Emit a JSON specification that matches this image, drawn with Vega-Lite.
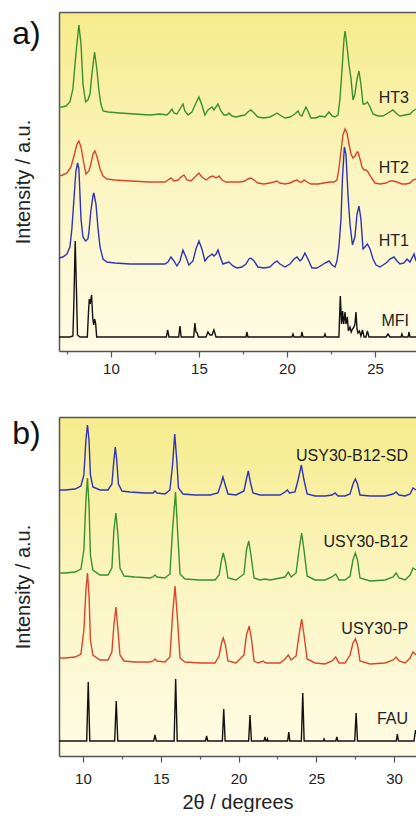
{
"$schema":"https://vega.github.io/schema/vega-lite/v6.json",
"padding":{"left":12,"top":12,"right":0,"bottom":0},
"spacing":41,
"resolve":{"scale":{"color":"independent"}},
"config":{"font":"Liberation Sans","view":{"stroke":null,"fill":{"gradient":"linear","x1":0,"y1":0,"x2":0,"y2":1,"stops":[{"offset":0,"color":"#f6ec8c"},{"offset":0.5,"color":"#fbf5c2"},{"offset":1,"color":"#fffce6"}]}},
"axis":{"grid":false,"domainColor":"#555555","domainWidth":1.5,"tickColor":"#555555","tickWidth":1.2,"labelColor":"#222222","labelFontSize":15,"titleColor":"#222222","titleFontWeight":"normal","titleFontSize":20,"labelFlush":false,"labelOverlap":false}},
"datasets":{
"a_lines":[
{"s":"HT3","x":7.05,"y":244},{"s":"HT3","x":7.22,"y":244},{"s":"HT3","x":7.44,"y":245},{"s":"HT3","x":7.67,"y":249},{"s":"HT3","x":7.84,"y":262},{"s":"HT3","x":8.01,"y":297},{"s":"HT3","x":8.18,"y":326},{"s":"HT3","x":8.30,"y":307},{"s":"HT3","x":8.41,"y":267},{"s":"HT3","x":8.56,"y":249},{"s":"HT3","x":8.69,"y":251},{"s":"HT3","x":8.81,"y":257},{"s":"HT3","x":8.92,"y":277},{"s":"HT3","x":9.07,"y":299},{"s":"HT3","x":9.20,"y":282},{"s":"HT3","x":9.32,"y":260},{"s":"HT3","x":9.43,"y":247},{"s":"HT3","x":9.55,"y":240},{"s":"HT3","x":9.83,"y":239},{"s":"HT3","x":10.51,"y":238},{"s":"HT3","x":11.36,"y":237},{"s":"HT3","x":12.22,"y":236},{"s":"HT3","x":12.78,"y":237},{"s":"HT3","x":13.18,"y":236},{"s":"HT3","x":13.35,"y":239},{"s":"HT3","x":13.47,"y":242},{"s":"HT3","x":13.58,"y":238},{"s":"HT3","x":13.75,"y":237},{"s":"HT3","x":13.92,"y":242},{"s":"HT3","x":14.09,"y":247},{"s":"HT3","x":14.20,"y":240},{"s":"HT3","x":14.38,"y":236},{"s":"HT3","x":14.60,"y":239},{"s":"HT3","x":14.83,"y":248},{"s":"HT3","x":15.00,"y":254},{"s":"HT3","x":15.17,"y":246},{"s":"HT3","x":15.34,"y":236},{"s":"HT3","x":15.51,"y":241},{"s":"HT3","x":15.74,"y":244},{"s":"HT3","x":15.85,"y":241},{"s":"HT3","x":16.08,"y":247},{"s":"HT3","x":16.25,"y":240},{"s":"HT3","x":16.42,"y":236},{"s":"HT3","x":16.59,"y":236},{"s":"HT3","x":16.70,"y":238},{"s":"HT3","x":16.88,"y":235},{"s":"HT3","x":17.10,"y":234},{"s":"HT3","x":17.33,"y":235},{"s":"HT3","x":17.61,"y":236},{"s":"HT3","x":17.78,"y":239},{"s":"HT3","x":17.95,"y":241},{"s":"HT3","x":18.13,"y":238},{"s":"HT3","x":18.35,"y":234},{"s":"HT3","x":18.69,"y":233},{"s":"HT3","x":19.03,"y":234},{"s":"HT3","x":19.26,"y":236},{"s":"HT3","x":19.43,"y":238},{"s":"HT3","x":19.60,"y":236},{"s":"HT3","x":19.89,"y":233},{"s":"HT3","x":20.17,"y":234},{"s":"HT3","x":20.45,"y":237},{"s":"HT3","x":20.63,"y":240},{"s":"HT3","x":20.74,"y":236},{"s":"HT3","x":20.85,"y":235},{"s":"HT3","x":20.97,"y":240},{"s":"HT3","x":21.08,"y":244},{"s":"HT3","x":21.19,"y":240},{"s":"HT3","x":21.36,"y":233},{"s":"HT3","x":21.65,"y":233},{"s":"HT3","x":21.88,"y":235},{"s":"HT3","x":22.16,"y":234},{"s":"HT3","x":22.39,"y":239},{"s":"HT3","x":22.56,"y":235},{"s":"HT3","x":22.73,"y":234},{"s":"HT3","x":22.90,"y":236},{"s":"HT3","x":23.01,"y":252},{"s":"HT3","x":23.13,"y":282},{"s":"HT3","x":23.24,"y":312},{"s":"HT3","x":23.30,"y":320},{"s":"HT3","x":23.35,"y":314},{"s":"HT3","x":23.47,"y":295},{"s":"HT3","x":23.52,"y":287},{"s":"HT3","x":23.64,"y":272},{"s":"HT3","x":23.75,"y":251},{"s":"HT3","x":23.86,"y":257},{"s":"HT3","x":23.98,"y":272},{"s":"HT3","x":24.09,"y":280},{"s":"HT3","x":24.20,"y":267},{"s":"HT3","x":24.32,"y":247},{"s":"HT3","x":24.43,"y":247},{"s":"HT3","x":24.57,"y":249},{"s":"HT3","x":24.72,"y":244},{"s":"HT3","x":24.89,"y":237},{"s":"HT3","x":25.17,"y":235},{"s":"HT3","x":25.45,"y":235},{"s":"HT3","x":25.74,"y":238},{"s":"HT3","x":26.02,"y":241},{"s":"HT3","x":26.25,"y":237},{"s":"HT3","x":26.42,"y":235},{"s":"HT3","x":26.70,"y":236},{"s":"HT3","x":26.99,"y":237},{"s":"HT3","x":27.16,"y":240},{"s":"HT3","x":27.33,"y":242},
{"s":"HT2","x":7.05,"y":175},{"s":"HT2","x":7.27,"y":176},{"s":"HT2","x":7.50,"y":178},{"s":"HT2","x":7.73,"y":184},{"s":"HT2","x":7.90,"y":195},{"s":"HT2","x":8.07,"y":207},{"s":"HT2","x":8.18,"y":210},{"s":"HT2","x":8.30,"y":204},{"s":"HT2","x":8.47,"y":187},{"s":"HT2","x":8.58,"y":177},{"s":"HT2","x":8.75,"y":180},{"s":"HT2","x":8.86,"y":187},{"s":"HT2","x":8.98,"y":197},{"s":"HT2","x":9.09,"y":200},{"s":"HT2","x":9.20,"y":195},{"s":"HT2","x":9.38,"y":182},{"s":"HT2","x":9.55,"y":175},{"s":"HT2","x":9.77,"y":172},{"s":"HT2","x":10.23,"y":171},{"s":"HT2","x":11.08,"y":170},{"s":"HT2","x":12.22,"y":169},{"s":"HT2","x":13.07,"y":169},{"s":"HT2","x":13.24,"y":171},{"s":"HT2","x":13.41,"y":173},{"s":"HT2","x":13.58,"y":170},{"s":"HT2","x":13.81,"y":171},{"s":"HT2","x":13.98,"y":174},{"s":"HT2","x":14.15,"y":176},{"s":"HT2","x":14.32,"y":171},{"s":"HT2","x":14.55,"y":170},{"s":"HT2","x":14.77,"y":174},{"s":"HT2","x":15.00,"y":178},{"s":"HT2","x":15.17,"y":174},{"s":"HT2","x":15.40,"y":171},{"s":"HT2","x":15.63,"y":174},{"s":"HT2","x":15.80,"y":175},{"s":"HT2","x":15.97,"y":173},{"s":"HT2","x":16.14,"y":175},{"s":"HT2","x":16.31,"y":171},{"s":"HT2","x":16.53,"y":169},{"s":"HT2","x":16.88,"y":169},{"s":"HT2","x":17.33,"y":169},{"s":"HT2","x":17.61,"y":170},{"s":"HT2","x":17.78,"y":172},{"s":"HT2","x":17.95,"y":173},{"s":"HT2","x":18.13,"y":171},{"s":"HT2","x":18.35,"y":168},{"s":"HT2","x":18.69,"y":167},{"s":"HT2","x":19.03,"y":168},{"s":"HT2","x":19.26,"y":169},{"s":"HT2","x":19.43,"y":170},{"s":"HT2","x":19.60,"y":168},{"s":"HT2","x":19.89,"y":167},{"s":"HT2","x":20.17,"y":168},{"s":"HT2","x":20.40,"y":170},{"s":"HT2","x":20.57,"y":171},{"s":"HT2","x":20.74,"y":169},{"s":"HT2","x":20.85,"y":169},{"s":"HT2","x":20.97,"y":171},{"s":"HT2","x":21.14,"y":169},{"s":"HT2","x":21.36,"y":167},{"s":"HT2","x":21.76,"y":167},{"s":"HT2","x":22.10,"y":168},{"s":"HT2","x":22.44,"y":169},{"s":"HT2","x":22.67,"y":169},{"s":"HT2","x":22.84,"y":171},{"s":"HT2","x":22.95,"y":182},{"s":"HT2","x":23.07,"y":200},{"s":"HT2","x":23.18,"y":216},{"s":"HT2","x":23.30,"y":222},{"s":"HT2","x":23.41,"y":218},{"s":"HT2","x":23.52,"y":207},{"s":"HT2","x":23.64,"y":197},{"s":"HT2","x":23.75,"y":193},{"s":"HT2","x":23.86,"y":195},{"s":"HT2","x":23.98,"y":199},{"s":"HT2","x":24.03,"y":199},{"s":"HT2","x":24.15,"y":192},{"s":"HT2","x":24.26,"y":184},{"s":"HT2","x":24.38,"y":181},{"s":"HT2","x":24.49,"y":181},{"s":"HT2","x":24.60,"y":179},{"s":"HT2","x":24.77,"y":174},{"s":"HT2","x":25.00,"y":168},{"s":"HT2","x":25.28,"y":167},{"s":"HT2","x":25.63,"y":168},{"s":"HT2","x":25.85,"y":170},{"s":"HT2","x":26.02,"y":170},{"s":"HT2","x":26.25,"y":169},{"s":"HT2","x":26.53,"y":167},{"s":"HT2","x":26.76,"y":167},{"s":"HT2","x":26.99,"y":168},{"s":"HT2","x":27.16,"y":171},{"s":"HT2","x":27.33,"y":172},
{"s":"HT1","x":7.05,"y":93},{"s":"HT1","x":7.27,"y":94},{"s":"HT1","x":7.50,"y":97},{"s":"HT1","x":7.67,"y":104},{"s":"HT1","x":7.78,"y":122},{"s":"HT1","x":7.90,"y":152},{"s":"HT1","x":8.01,"y":180},{"s":"HT1","x":8.11,"y":188},{"s":"HT1","x":8.18,"y":182},{"s":"HT1","x":8.24,"y":157},{"s":"HT1","x":8.30,"y":132},{"s":"HT1","x":8.41,"y":114},{"s":"HT1","x":8.56,"y":110},{"s":"HT1","x":8.69,"y":112},{"s":"HT1","x":8.75,"y":119},{"s":"HT1","x":8.86,"y":140},{"s":"HT1","x":8.98,"y":155},{"s":"HT1","x":9.03,"y":158},{"s":"HT1","x":9.15,"y":147},{"s":"HT1","x":9.26,"y":124},{"s":"HT1","x":9.38,"y":104},{"s":"HT1","x":9.55,"y":92},{"s":"HT1","x":9.77,"y":89},{"s":"HT1","x":10.23,"y":88},{"s":"HT1","x":11.08,"y":87},{"s":"HT1","x":12.22,"y":87},{"s":"HT1","x":13.07,"y":87},{"s":"HT1","x":13.24,"y":89},{"s":"HT1","x":13.41,"y":94},{"s":"HT1","x":13.58,"y":90},{"s":"HT1","x":13.75,"y":85},{"s":"HT1","x":13.92,"y":90},{"s":"HT1","x":14.09,"y":101},{"s":"HT1","x":14.26,"y":94},{"s":"HT1","x":14.43,"y":86},{"s":"HT1","x":14.66,"y":90},{"s":"HT1","x":14.83,"y":102},{"s":"HT1","x":15.00,"y":110},{"s":"HT1","x":15.17,"y":102},{"s":"HT1","x":15.34,"y":90},{"s":"HT1","x":15.51,"y":94},{"s":"HT1","x":15.68,"y":96},{"s":"HT1","x":15.74,"y":97},{"s":"HT1","x":15.85,"y":95},{"s":"HT1","x":15.97,"y":97},{"s":"HT1","x":16.08,"y":101},{"s":"HT1","x":16.19,"y":95},{"s":"HT1","x":16.36,"y":87},{"s":"HT1","x":16.53,"y":88},{"s":"HT1","x":16.70,"y":89},{"s":"HT1","x":16.93,"y":85},{"s":"HT1","x":17.16,"y":83},{"s":"HT1","x":17.44,"y":84},{"s":"HT1","x":17.67,"y":87},{"s":"HT1","x":17.84,"y":92},{"s":"HT1","x":17.95,"y":93},{"s":"HT1","x":18.13,"y":90},{"s":"HT1","x":18.35,"y":84},{"s":"HT1","x":18.69,"y":83},{"s":"HT1","x":19.03,"y":84},{"s":"HT1","x":19.26,"y":88},{"s":"HT1","x":19.43,"y":90},{"s":"HT1","x":19.60,"y":87},{"s":"HT1","x":19.89,"y":84},{"s":"HT1","x":20.17,"y":87},{"s":"HT1","x":20.40,"y":92},{"s":"HT1","x":20.57,"y":94},{"s":"HT1","x":20.74,"y":90},{"s":"HT1","x":20.85,"y":92},{"s":"HT1","x":21.02,"y":98},{"s":"HT1","x":21.19,"y":92},{"s":"HT1","x":21.42,"y":83},{"s":"HT1","x":21.70,"y":83},{"s":"HT1","x":21.99,"y":86},{"s":"HT1","x":22.16,"y":88},{"s":"HT1","x":22.39,"y":90},{"s":"HT1","x":22.56,"y":86},{"s":"HT1","x":22.73,"y":84},{"s":"HT1","x":22.84,"y":90},{"s":"HT1","x":22.95,"y":104},{"s":"HT1","x":23.07,"y":132},{"s":"HT1","x":23.15,"y":172},{"s":"HT1","x":23.26,"y":204},{"s":"HT1","x":23.35,"y":197},{"s":"HT1","x":23.47,"y":155},{"s":"HT1","x":23.58,"y":127},{"s":"HT1","x":23.72,"y":106},{"s":"HT1","x":23.86,"y":114},{"s":"HT1","x":23.98,"y":137},{"s":"HT1","x":24.09,"y":145},{"s":"HT1","x":24.20,"y":132},{"s":"HT1","x":24.32,"y":102},{"s":"HT1","x":24.43,"y":104},{"s":"HT1","x":24.57,"y":107},{"s":"HT1","x":24.72,"y":102},{"s":"HT1","x":24.89,"y":92},{"s":"HT1","x":25.06,"y":86},{"s":"HT1","x":25.28,"y":84},{"s":"HT1","x":25.63,"y":88},{"s":"HT1","x":25.85,"y":92},{"s":"HT1","x":26.08,"y":94},{"s":"HT1","x":26.25,"y":90},{"s":"HT1","x":26.42,"y":87},{"s":"HT1","x":26.65,"y":88},{"s":"HT1","x":26.82,"y":92},{"s":"HT1","x":26.99,"y":89},{"s":"HT1","x":27.22,"y":97},{"s":"HT1","x":27.33,"y":90},
{"s":"MFI","x":7.05,"y":14},{"s":"MFI","x":7.67,"y":14},{"s":"MFI","x":7.84,"y":15},{"s":"MFI","x":7.90,"y":52},{"s":"MFI","x":7.97,"y":110},{"s":"MFI","x":8.04,"y":62},{"s":"MFI","x":8.10,"y":16},{"s":"MFI","x":8.24,"y":14},{"s":"MFI","x":8.66,"y":14},{"s":"MFI","x":8.72,"y":37},{"s":"MFI","x":8.77,"y":52},{"s":"MFI","x":8.82,"y":47},{"s":"MFI","x":8.90,"y":56},{"s":"MFI","x":8.97,"y":32},{"s":"MFI","x":9.02,"y":26},{"s":"MFI","x":9.07,"y":32},{"s":"MFI","x":9.13,"y":28},{"s":"MFI","x":9.19,"y":14},{"s":"MFI","x":9.94,"y":14},{"s":"MFI","x":13.15,"y":14},{"s":"MFI","x":13.22,"y":21},{"s":"MFI","x":13.30,"y":14},{"s":"MFI","x":13.85,"y":14},{"s":"MFI","x":13.92,"y":25},{"s":"MFI","x":13.99,"y":14},{"s":"MFI","x":14.70,"y":14},{"s":"MFI","x":14.77,"y":28},{"s":"MFI","x":14.83,"y":19},{"s":"MFI","x":14.90,"y":18},{"s":"MFI","x":14.97,"y":14},{"s":"MFI","x":15.40,"y":14},{"s":"MFI","x":15.51,"y":19},{"s":"MFI","x":15.63,"y":16},{"s":"MFI","x":15.74,"y":16},{"s":"MFI","x":15.85,"y":21},{"s":"MFI","x":15.97,"y":14},{"s":"MFI","x":17.67,"y":14},{"s":"MFI","x":17.73,"y":19},{"s":"MFI","x":17.78,"y":14},{"s":"MFI","x":20.28,"y":14},{"s":"MFI","x":20.34,"y":17},{"s":"MFI","x":20.40,"y":14},{"s":"MFI","x":20.80,"y":14},{"s":"MFI","x":20.85,"y":19},{"s":"MFI","x":20.91,"y":14},{"s":"MFI","x":22.10,"y":14},{"s":"MFI","x":22.16,"y":17},{"s":"MFI","x":22.22,"y":14},{"s":"MFI","x":22.95,"y":14},{"s":"MFI","x":23.03,"y":55},{"s":"MFI","x":23.10,"y":27},{"s":"MFI","x":23.16,"y":40},{"s":"MFI","x":23.22,"y":27},{"s":"MFI","x":23.30,"y":39},{"s":"MFI","x":23.35,"y":27},{"s":"MFI","x":23.43,"y":34},{"s":"MFI","x":23.49,"y":20},{"s":"MFI","x":23.58,"y":24},{"s":"MFI","x":23.65,"y":19},{"s":"MFI","x":23.72,"y":22},{"s":"MFI","x":23.81,"y":24},{"s":"MFI","x":23.86,"y":27},{"s":"MFI","x":23.92,"y":39},{"s":"MFI","x":23.98,"y":22},{"s":"MFI","x":24.03,"y":18},{"s":"MFI","x":24.12,"y":20},{"s":"MFI","x":24.20,"y":15},{"s":"MFI","x":24.29,"y":21},{"s":"MFI","x":24.38,"y":14},{"s":"MFI","x":24.49,"y":14},{"s":"MFI","x":24.57,"y":20},{"s":"MFI","x":24.66,"y":14},{"s":"MFI","x":25.63,"y":14},{"s":"MFI","x":25.74,"y":17},{"s":"MFI","x":25.85,"y":14},{"s":"MFI","x":26.48,"y":14},{"s":"MFI","x":26.53,"y":17},{"s":"MFI","x":26.59,"y":14},{"s":"MFI","x":26.88,"y":14},{"s":"MFI","x":26.93,"y":19},{"s":"MFI","x":26.99,"y":14},{"s":"MFI","x":27.33,"y":14}
],
"a_labels":[{"s":"HT3","x":26.93,"y":253},{"s":"HT2","x":26.93,"y":183},{"s":"HT1","x":26.93,"y":110},{"s":"MFI","x":26.93,"y":30}],
"a_tag":[{"t":"a)","x":5.2,"y":317}],
"b_lines":[
{"s":"USY30-B12-SD","x":8.46,"y":266},{"s":"USY30-B12-SD","x":8.84,"y":266},{"s":"USY30-B12-SD","x":9.49,"y":267},{"s":"USY30-B12-SD","x":9.87,"y":270},{"s":"USY30-B12-SD","x":10.06,"y":281},{"s":"USY30-B12-SD","x":10.19,"y":316},{"s":"USY30-B12-SD","x":10.29,"y":331},{"s":"USY30-B12-SD","x":10.39,"y":316},{"s":"USY30-B12-SD","x":10.48,"y":281},{"s":"USY30-B12-SD","x":10.64,"y":269},{"s":"USY30-B12-SD","x":11.09,"y":266},{"s":"USY30-B12-SD","x":11.61,"y":266},{"s":"USY30-B12-SD","x":11.86,"y":272},{"s":"USY30-B12-SD","x":11.99,"y":296},{"s":"USY30-B12-SD","x":12.08,"y":309},{"s":"USY30-B12-SD","x":12.17,"y":296},{"s":"USY30-B12-SD","x":12.28,"y":272},{"s":"USY30-B12-SD","x":12.51,"y":265},{"s":"USY30-B12-SD","x":13.02,"y":264},{"s":"USY30-B12-SD","x":13.99,"y":263},{"s":"USY30-B12-SD","x":14.50,"y":263},{"s":"USY30-B12-SD","x":14.63,"y":265},{"s":"USY30-B12-SD","x":14.76,"y":263},{"s":"USY30-B12-SD","x":15.27,"y":262},{"s":"USY30-B12-SD","x":15.59,"y":266},{"s":"USY30-B12-SD","x":15.76,"y":291},{"s":"USY30-B12-SD","x":15.90,"y":322},{"s":"USY30-B12-SD","x":16.03,"y":296},{"s":"USY30-B12-SD","x":16.14,"y":268},{"s":"USY30-B12-SD","x":16.43,"y":262},{"s":"USY30-B12-SD","x":17.20,"y":261},{"s":"USY30-B12-SD","x":18.17,"y":261},{"s":"USY30-B12-SD","x":18.68,"y":263},{"s":"USY30-B12-SD","x":18.87,"y":272},{"s":"USY30-B12-SD","x":19.00,"y":279},{"s":"USY30-B12-SD","x":19.13,"y":272},{"s":"USY30-B12-SD","x":19.32,"y":262},{"s":"USY30-B12-SD","x":19.84,"y":261},{"s":"USY30-B12-SD","x":20.35,"y":265},{"s":"USY30-B12-SD","x":20.51,"y":277},{"s":"USY30-B12-SD","x":20.63,"y":285},{"s":"USY30-B12-SD","x":20.76,"y":274},{"s":"USY30-B12-SD","x":20.93,"y":263},{"s":"USY30-B12-SD","x":21.38,"y":261},{"s":"USY30-B12-SD","x":22.67,"y":261},{"s":"USY30-B12-SD","x":22.99,"y":264},{"s":"USY30-B12-SD","x":23.14,"y":266},{"s":"USY30-B12-SD","x":23.28,"y":263},{"s":"USY30-B12-SD","x":23.63,"y":264},{"s":"USY30-B12-SD","x":23.83,"y":276},{"s":"USY30-B12-SD","x":24.04,"y":291},{"s":"USY30-B12-SD","x":24.21,"y":276},{"s":"USY30-B12-SD","x":24.41,"y":262},{"s":"USY30-B12-SD","x":24.92,"y":260},{"s":"USY30-B12-SD","x":25.56,"y":260},{"s":"USY30-B12-SD","x":26.01,"y":261},{"s":"USY30-B12-SD","x":26.21,"y":263},{"s":"USY30-B12-SD","x":26.40,"y":260},{"s":"USY30-B12-SD","x":26.85,"y":260},{"s":"USY30-B12-SD","x":27.17,"y":262},{"s":"USY30-B12-SD","x":27.36,"y":272},{"s":"USY30-B12-SD","x":27.51,"y":277},{"s":"USY30-B12-SD","x":27.65,"y":272},{"s":"USY30-B12-SD","x":27.81,"y":261},{"s":"USY30-B12-SD","x":28.46,"y":260},{"s":"USY30-B12-SD","x":29.42,"y":260},{"s":"USY30-B12-SD","x":29.94,"y":262},{"s":"USY30-B12-SD","x":30.13,"y":264},{"s":"USY30-B12-SD","x":30.32,"y":261},{"s":"USY30-B12-SD","x":30.71,"y":260},{"s":"USY30-B12-SD","x":31.03,"y":262},{"s":"USY30-B12-SD","x":31.22,"y":268},{"s":"USY30-B12-SD","x":31.41,"y":266},
{"s":"USY30-B12","x":8.46,"y":183},{"s":"USY30-B12","x":8.84,"y":183},{"s":"USY30-B12","x":9.49,"y":184},{"s":"USY30-B12","x":9.87,"y":187},{"s":"USY30-B12","x":10.06,"y":206},{"s":"USY30-B12","x":10.19,"y":256},{"s":"USY30-B12","x":10.29,"y":278},{"s":"USY30-B12","x":10.39,"y":251},{"s":"USY30-B12","x":10.48,"y":201},{"s":"USY30-B12","x":10.64,"y":186},{"s":"USY30-B12","x":11.09,"y":181},{"s":"USY30-B12","x":11.61,"y":181},{"s":"USY30-B12","x":11.86,"y":188},{"s":"USY30-B12","x":11.99,"y":226},{"s":"USY30-B12","x":12.12,"y":243},{"s":"USY30-B12","x":12.25,"y":221},{"s":"USY30-B12","x":12.38,"y":188},{"s":"USY30-B12","x":12.64,"y":180},{"s":"USY30-B12","x":13.34,"y":179},{"s":"USY30-B12","x":14.31,"y":178},{"s":"USY30-B12","x":14.50,"y":179},{"s":"USY30-B12","x":14.63,"y":181},{"s":"USY30-B12","x":14.76,"y":179},{"s":"USY30-B12","x":15.27,"y":178},{"s":"USY30-B12","x":15.59,"y":182},{"s":"USY30-B12","x":15.76,"y":226},{"s":"USY30-B12","x":15.95,"y":264},{"s":"USY30-B12","x":16.08,"y":226},{"s":"USY30-B12","x":16.24,"y":182},{"s":"USY30-B12","x":16.56,"y":177},{"s":"USY30-B12","x":17.52,"y":176},{"s":"USY30-B12","x":18.49,"y":176},{"s":"USY30-B12","x":18.75,"y":181},{"s":"USY30-B12","x":18.91,"y":196},{"s":"USY30-B12","x":19.02,"y":203},{"s":"USY30-B12","x":19.16,"y":194},{"s":"USY30-B12","x":19.32,"y":178},{"s":"USY30-B12","x":19.84,"y":176},{"s":"USY30-B12","x":20.35,"y":182},{"s":"USY30-B12","x":20.51,"y":206},{"s":"USY30-B12","x":20.66,"y":215},{"s":"USY30-B12","x":20.80,"y":201},{"s":"USY30-B12","x":21.00,"y":178},{"s":"USY30-B12","x":21.38,"y":176},{"s":"USY30-B12","x":21.70,"y":177},{"s":"USY30-B12","x":22.03,"y":176},{"s":"USY30-B12","x":22.99,"y":179},{"s":"USY30-B12","x":23.20,"y":184},{"s":"USY30-B12","x":23.38,"y":179},{"s":"USY30-B12","x":23.70,"y":183},{"s":"USY30-B12","x":23.89,"y":206},{"s":"USY30-B12","x":24.06,"y":223},{"s":"USY30-B12","x":24.21,"y":206},{"s":"USY30-B12","x":24.41,"y":180},{"s":"USY30-B12","x":24.92,"y":176},{"s":"USY30-B12","x":25.56,"y":176},{"s":"USY30-B12","x":26.01,"y":179},{"s":"USY30-B12","x":26.25,"y":182},{"s":"USY30-B12","x":26.46,"y":176},{"s":"USY30-B12","x":26.85,"y":176},{"s":"USY30-B12","x":27.17,"y":180},{"s":"USY30-B12","x":27.36,"y":196},{"s":"USY30-B12","x":27.51,"y":203},{"s":"USY30-B12","x":27.65,"y":196},{"s":"USY30-B12","x":27.81,"y":178},{"s":"USY30-B12","x":28.46,"y":175},{"s":"USY30-B12","x":29.42,"y":176},{"s":"USY30-B12","x":29.94,"y":179},{"s":"USY30-B12","x":30.13,"y":183},{"s":"USY30-B12","x":30.32,"y":178},{"s":"USY30-B12","x":30.71,"y":176},{"s":"USY30-B12","x":31.03,"y":181},{"s":"USY30-B12","x":31.22,"y":188},{"s":"USY30-B12","x":31.41,"y":186},
{"s":"USY30-P","x":8.46,"y":98},{"s":"USY30-P","x":8.84,"y":98},{"s":"USY30-P","x":9.49,"y":99},{"s":"USY30-P","x":9.87,"y":102},{"s":"USY30-P","x":10.06,"y":126},{"s":"USY30-P","x":10.19,"y":166},{"s":"USY30-P","x":10.29,"y":183},{"s":"USY30-P","x":10.39,"y":161},{"s":"USY30-P","x":10.48,"y":116},{"s":"USY30-P","x":10.64,"y":101},{"s":"USY30-P","x":11.09,"y":96},{"s":"USY30-P","x":11.61,"y":96},{"s":"USY30-P","x":11.86,"y":104},{"s":"USY30-P","x":11.99,"y":131},{"s":"USY30-P","x":12.12,"y":149},{"s":"USY30-P","x":12.25,"y":126},{"s":"USY30-P","x":12.38,"y":101},{"s":"USY30-P","x":12.64,"y":95},{"s":"USY30-P","x":13.34,"y":94},{"s":"USY30-P","x":14.31,"y":94},{"s":"USY30-P","x":14.50,"y":95},{"s":"USY30-P","x":14.63,"y":97},{"s":"USY30-P","x":14.76,"y":95},{"s":"USY30-P","x":15.27,"y":94},{"s":"USY30-P","x":15.59,"y":99},{"s":"USY30-P","x":15.76,"y":141},{"s":"USY30-P","x":15.92,"y":170},{"s":"USY30-P","x":16.08,"y":136},{"s":"USY30-P","x":16.24,"y":98},{"s":"USY30-P","x":16.56,"y":94},{"s":"USY30-P","x":17.52,"y":93},{"s":"USY30-P","x":18.49,"y":93},{"s":"USY30-P","x":18.75,"y":100},{"s":"USY30-P","x":18.91,"y":113},{"s":"USY30-P","x":19.02,"y":118},{"s":"USY30-P","x":19.16,"y":111},{"s":"USY30-P","x":19.32,"y":95},{"s":"USY30-P","x":19.84,"y":93},{"s":"USY30-P","x":20.35,"y":101},{"s":"USY30-P","x":20.51,"y":121},{"s":"USY30-P","x":20.69,"y":130},{"s":"USY30-P","x":20.84,"y":116},{"s":"USY30-P","x":21.00,"y":95},{"s":"USY30-P","x":21.25,"y":93},{"s":"USY30-P","x":21.58,"y":95},{"s":"USY30-P","x":21.77,"y":93},{"s":"USY30-P","x":22.67,"y":93},{"s":"USY30-P","x":22.99,"y":97},{"s":"USY30-P","x":23.20,"y":101},{"s":"USY30-P","x":23.38,"y":96},{"s":"USY30-P","x":23.70,"y":100},{"s":"USY30-P","x":23.89,"y":121},{"s":"USY30-P","x":24.06,"y":137},{"s":"USY30-P","x":24.21,"y":121},{"s":"USY30-P","x":24.41,"y":97},{"s":"USY30-P","x":24.92,"y":93},{"s":"USY30-P","x":25.56,"y":92},{"s":"USY30-P","x":26.01,"y":95},{"s":"USY30-P","x":26.25,"y":99},{"s":"USY30-P","x":26.46,"y":93},{"s":"USY30-P","x":26.85,"y":93},{"s":"USY30-P","x":27.17,"y":101},{"s":"USY30-P","x":27.36,"y":113},{"s":"USY30-P","x":27.51,"y":117},{"s":"USY30-P","x":27.65,"y":111},{"s":"USY30-P","x":27.81,"y":95},{"s":"USY30-P","x":28.46,"y":92},{"s":"USY30-P","x":29.42,"y":93},{"s":"USY30-P","x":29.94,"y":96},{"s":"USY30-P","x":30.13,"y":99},{"s":"USY30-P","x":30.32,"y":95},{"s":"USY30-P","x":30.71,"y":93},{"s":"USY30-P","x":31.03,"y":98},{"s":"USY30-P","x":31.22,"y":104},{"s":"USY30-P","x":31.41,"y":101},
{"s":"FAU","x":8.46,"y":15},{"s":"FAU","x":10.24,"y":15},{"s":"FAU","x":10.34,"y":74},{"s":"FAU","x":10.44,"y":15},{"s":"FAU","x":12.04,"y":15},{"s":"FAU","x":12.14,"y":55},{"s":"FAU","x":12.24,"y":15},{"s":"FAU","x":14.55,"y":15},{"s":"FAU","x":14.63,"y":21},{"s":"FAU","x":14.71,"y":15},{"s":"FAU","x":15.86,"y":15},{"s":"FAU","x":15.96,"y":77},{"s":"FAU","x":16.06,"y":15},{"s":"FAU","x":17.88,"y":15},{"s":"FAU","x":17.95,"y":20},{"s":"FAU","x":18.02,"y":15},{"s":"FAU","x":18.96,"y":15},{"s":"FAU","x":19.05,"y":47},{"s":"FAU","x":19.14,"y":15},{"s":"FAU","x":20.65,"y":15},{"s":"FAU","x":20.74,"y":41},{"s":"FAU","x":20.83,"y":15},{"s":"FAU","x":21.64,"y":15},{"s":"FAU","x":21.70,"y":19},{"s":"FAU","x":21.76,"y":15},{"s":"FAU","x":21.82,"y":15},{"s":"FAU","x":21.86,"y":17},{"s":"FAU","x":21.90,"y":15},{"s":"FAU","x":23.16,"y":15},{"s":"FAU","x":23.23,"y":24},{"s":"FAU","x":23.30,"y":15},{"s":"FAU","x":24.04,"y":15},{"s":"FAU","x":24.13,"y":63},{"s":"FAU","x":24.22,"y":15},{"s":"FAU","x":25.45,"y":15},{"s":"FAU","x":25.50,"y":17},{"s":"FAU","x":25.55,"y":15},{"s":"FAU","x":26.26,"y":15},{"s":"FAU","x":26.32,"y":19},{"s":"FAU","x":26.38,"y":15},{"s":"FAU","x":27.47,"y":15},{"s":"FAU","x":27.56,"y":43},{"s":"FAU","x":27.65,"y":15},{"s":"FAU","x":30.14,"y":15},{"s":"FAU","x":30.21,"y":22},{"s":"FAU","x":30.28,"y":15},{"s":"FAU","x":31.28,"y":15},{"s":"FAU","x":31.38,"y":26},{"s":"FAU","x":31.41,"y":22}
],
"b_labels":[{"s":"USY30-B12-SD","x":30.9,"y":300},{"s":"USY30-B12","x":30.9,"y":214},{"s":"USY30-P","x":30.9,"y":127},{"s":"FAU","x":30.9,"y":37}],
"b_tag":[{"t":"b)","x":6.37,"y":322}]
},
"vconcat":[
{"width":357,"height":339,
"resolve":{"axis":{"x":"independent","y":"independent"}},
"layer":[
{"data":{"name":"a_lines"},"mark":{"type":"line","strokeWidth":1.4},
"encoding":{
"x":{"field":"x","type":"quantitative","scale":{"domain":[7.05,27.33],"nice":false,"zero":false},
"axis":{"orient":"bottom","title":null,"values":[7.5,10,12.5,15,17.5,20,22.5,25],"labelExpr":"datum.value % 5 === 0 ? datum.label : ''","tickSize":{"condition":{"test":"datum.value % 5 === 0","value":6},"value":3},"labelPadding":4}},
"y":{"field":"y","type":"quantitative","scale":{"domain":[0,339],"nice":false,"zero":false},
"axis":{"orient":"left","title":"Intensity / a.u.","labels":false,"ticks":false,"titlePadding":26}},
"color":{"field":"s","type":"nominal","scale":{"domain":["HT3","HT2","HT1","MFI"],"range":["#3a8f2e","#d9452c","#2f33b5","#111111"]},"legend":null}}},
{"data":{"name":"a_labels"},"mark":{"type":"text","align":"right","baseline":"middle","fontSize":16,"color":"#222222"},
"encoding":{
"x":{"field":"x","type":"quantitative","axis":{"orient":"top","labels":false,"ticks":false,"title":null}},
"y":{"field":"y","type":"quantitative","axis":null},
"text":{"field":"s"}}},
{"data":{"name":"a_tag"},"mark":{"type":"text","align":"center","baseline":"middle","fontSize":32,"color":"#111111"},
"encoding":{
"x":{"field":"x","type":"quantitative","axis":null},
"y":{"field":"y","type":"quantitative","axis":null},
"text":{"field":"t"}}}
]},
{"width":357,"height":339,
"resolve":{"axis":{"x":"independent","y":"independent"}},
"layer":[
{"data":{"name":"b_lines"},"mark":{"type":"line","strokeWidth":1.4},
"encoding":{
"x":{"field":"x","type":"quantitative","scale":{"domain":[8.46,31.41],"nice":false,"zero":false},
"axis":{"orient":"bottom","title":"2θ / degrees","values":[10,12.5,15,17.5,20,22.5,25,27.5,30],"labelExpr":"datum.value % 5 === 0 ? datum.label : ''","tickSize":{"condition":{"test":"datum.value % 5 === 0","value":6},"value":3},"labelPadding":9,"titlePadding":6}},
"y":{"field":"y","type":"quantitative","scale":{"domain":[0,339],"nice":false,"zero":false},
"axis":{"orient":"left","title":"Intensity / a.u.","labels":false,"ticks":false,"titlePadding":26}},
"color":{"field":"s","type":"nominal","scale":{"domain":["USY30-B12-SD","USY30-B12","USY30-P","FAU"],"range":["#2f33b5","#3a8f2e","#d9452c","#111111"]},"legend":null}}},
{"data":{"name":"b_labels"},"mark":{"type":"text","align":"right","baseline":"middle","fontSize":16,"color":"#222222"},
"encoding":{
"x":{"field":"x","type":"quantitative","axis":{"orient":"top","labels":false,"ticks":false,"title":null}},
"y":{"field":"y","type":"quantitative","axis":null},
"text":{"field":"s"}}},
{"data":{"name":"b_tag"},"mark":{"type":"text","align":"center","baseline":"middle","fontSize":32,"color":"#111111"},
"encoding":{
"x":{"field":"x","type":"quantitative","axis":null},
"y":{"field":"y","type":"quantitative","axis":null},
"text":{"field":"t"}}}
]}
]
}
